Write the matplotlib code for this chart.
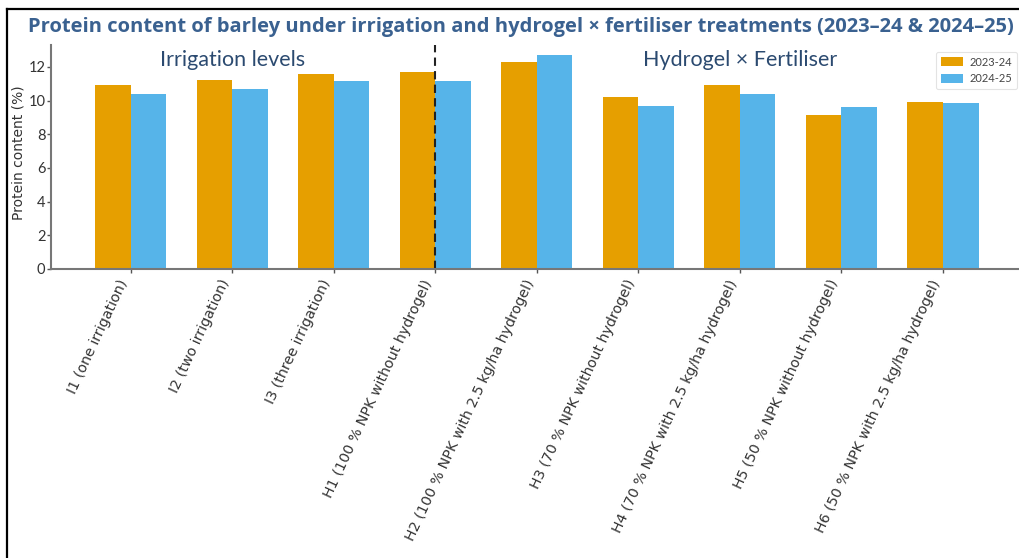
import matplotlib
matplotlib.use("Agg")
import matplotlib.pyplot as plt
from matplotlib.lines import Line2D
import numpy as np

categories = [
    "I1 (one irrigation)",
    "I2 (two irrigation)",
    "I3 (three irrigation)",
    "H1 (100 % NPK without hydrogel)",
    "H2 (100 % NPK with 2.5 kg/ha hydrogel)",
    "H3 (70 % NPK without hydrogel)",
    "H4 (70 % NPK with 2.5 kg/ha hydrogel)",
    "H5 (50 % NPK without hydrogel)",
    "H6 (50 % NPK with 2.5 kg/ha hydrogel)",
]
protein_2023_24 = [10.9, 11.2, 11.6, 11.7, 12.3, 10.2, 10.9, 9.15, 9.9]
protein_2024_25 = [10.4, 10.7, 11.15, 11.15, 12.7, 9.7, 10.4, 9.6, 9.85]
series_labels = ["2023-24", "2024-25"]
yticks = [0, 2, 4, 6, 8, 10, 12]
title = "Protein content of barley under irrigation and hydrogel \u00d7 fertiliser treatments (2023\u201324 & 2024\u201325)"
group_labels = ["Irrigation levels", "Hydrogel \u00d7 Fertiliser"]

W, H = 1020, 558
fig = plt.figure(figsize=(W / 100, H / 100), dpi=100)
fig.patch.set_facecolor("white")

def px(x0, y0, x1, y1):
    return [x0 / W, 1 - y1 / H, (x1 - x0) / W, (y1 - y0) / H]

AX_L, AX_R, AX_T, AX_B = 51, 1022.7, 45, 269
ax = fig.add_axes(px(AX_L, AX_T, AX_R, AX_B))

x = np.arange(len(categories))
bw = 0.35
orange = "#E69F00"
blue = "#56B4E9"
ax.bar(x - bw / 2, protein_2023_24, bw, color=orange, label=series_labels[0])
ax.bar(x + bw / 2, protein_2024_25, bw, color=blue, label=series_labels[1])

ax.set_ylim(0, 13.3)
ax.set_yticks(yticks)
ax.set_xticks(x)
ax.set_xticklabels(categories, rotation=65, ha="right")
for lab in ax.get_xticklabels():
    lab.set_fontfamily("DejaVu Sans")
    lab.set_fontsize(10.3)
    lab.set_color("#333333")
for lab in ax.get_yticklabels():
    lab.set_fontfamily("Lato")
    lab.set_fontsize(10.5)
    lab.set_color("#333333")
ax.tick_params(axis="both", colors="#555555", length=3, width=1)
ax.tick_params(axis="y", labelcolor="#333333", pad=1)
ax.tick_params(axis="x", labelcolor="#333333", pad=3)
for s in ["top", "right"]:
    ax.spines[s].set_visible(False)
for s in ["left", "bottom"]:
    ax.spines[s].set_color("#777777")
    ax.spines[s].set_linewidth(1.5)

ax.set_ylabel("Protein content (%)", fontsize=10, color="#333333",
              family="DejaVu Sans")
ax.yaxis.set_label_coords((26 - AX_L) / (AX_R - AX_L), 0.52)

ax.axvline(3, color="#222222", linestyle=(0, (4, 2.5)), linewidth=1.5)

ax.text(1, 12.4, group_labels[0], ha="center", va="center", fontsize=15.5,
        color="#2b4a70", family="Lato")
ax.text(6, 12.4, group_labels[1], ha="center", va="center", fontsize=15.5,
        color="#2b4a70", family="Lato")

leg = ax.legend(loc="upper right",
                bbox_to_anchor=((1023 - AX_L) / (AX_R - AX_L), 1.0 - 1 / (AX_B - AX_T)),
                frameon=True, handlelength=2.0, handleheight=0.8,
                borderpad=0.45, labelspacing=0.5, handletextpad=0.6,
                prop={"family": "Lato", "size": 8})
leg.get_frame().set_edgecolor("#dddddd")
leg.get_frame().set_linewidth(0.8)
for t in leg.get_texts():
    t.set_color("#444444")

tt = fig.text(521 / W, 1 - 27 / H, title, ha="center", va="center",
              fontsize=15, fontweight="bold", color="#3a6190", family="Open Sans")

# fit title width to ~987 px
fig.canvas.draw()
r = fig.canvas.get_renderer()
bb = tt.get_window_extent(r)
tt.set_fontsize(15 * 987 / bb.width)

# frame lines from screenshot border
fig.add_artist(Line2D([7.5 / W, 7.5 / W], [1 - 9 / H, 0], transform=fig.transFigure,
                      color="black", linewidth=1.6))
fig.add_artist(Line2D([7 / W, 1], [1 - 9 / H, 1 - 9 / H], transform=fig.transFigure,
                      color="black", linewidth=1.6))

fig.savefig("out.png", dpi=100)
